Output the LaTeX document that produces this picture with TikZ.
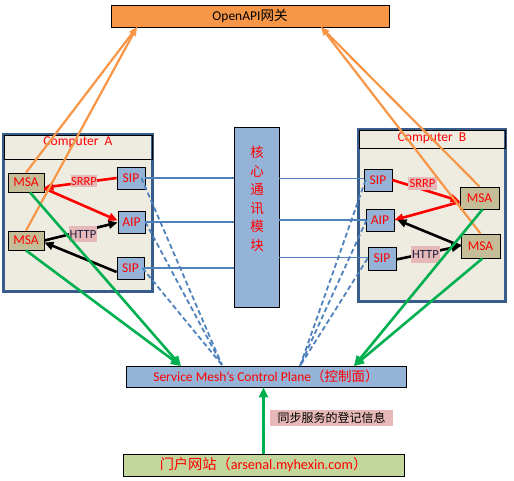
\documentclass[tikz,border=0pt]{standalone}
\usepackage{fontspec}
\setmainfont{Carlito}
\newfontfamily\cjk{Noto Sans CJK SC}
\usetikzlibrary{arrows.meta}

\definecolor{apiFill}{HTML}{F79646}
\definecolor{orangeLine}{HTML}{F79646}
\definecolor{blueFill}{HTML}{95B3D7}
\definecolor{msaFill}{HTML}{C4BD97}
\definecolor{compFill}{HTML}{EEECE1}
\definecolor{compEdge}{HTML}{385D8A}
\definecolor{portalFill}{HTML}{C3D69B}
\definecolor{tagFill}{HTML}{E6B9B8}
\definecolor{greenLine}{HTML}{00B050}
\definecolor{blueLine}{HTML}{4F81BD}
\definecolor{tagText}{HTML}{1F1F3F}

\begin{document}
\begin{tikzpicture}[x=1pt,y=-1pt,
  every node/.style={font=\fontsize{13.5}{16}\selectfont, inner sep=0pt},
  box/.style={draw=black, line width=0.8pt, text=red},
  compbox/.style={draw=compEdge, line width=3pt, fill=compFill},
  titlebar/.style={draw=black, line width=0.8pt},
  msabox/.style={box, fill=msaFill, minimum width=36pt, minimum height=19pt},
  sipbox/.style={box, fill=blueFill, minimum width=28pt, minimum height=22pt},
  tag/.style={fill=tagFill, font=\fontsize{12.5}{14}\selectfont},
  link/.style={draw=blueLine, line width=1.8pt},
  dlink/.style={draw=blueLine, line width=1.8pt, dash pattern=on 5pt off 3pt},
  redarrow/.style={draw=red, line width=2.6pt, -{Triangle[length=9pt,width=8pt]}},
  blackarrow/.style={draw=black, line width=2.6pt, -{Triangle[length=9pt,width=8pt]}},
  greenarrow/.style={draw=greenLine, line width=2.6pt, -{Triangle[length=10pt,width=9pt]}},
  orangearrow/.style={draw=orangeLine, line width=2.2pt, -{Stealth[length=9pt,width=7pt]}}]

\useasboundingbox (0,0) rectangle (514,481);

% gateway at the top
\node[box, fill=apiFill, text=black, minimum width=278pt, minimum height=22pt] (api) at (250,16) {OpenAPI{\cjk 网关}};

% computer A
\node[compbox, minimum width=149pt, minimum height=157pt] (compA) at (78,213) {};
\node[titlebar, minimum width=148pt, minimum height=23.5pt] (barA) at (78,147.25) {};
\node[text=red] (titleA) at (78,142) {Computer\ \ A};
\node[msabox] (msaA1) at (26,182.5) {MSA};
\node[msabox] (msaA2) at (26,240.5) {MSA};
\node[sipbox] (sipA1) at (131,178) {SIP};
\node[sipbox, minimum width=27pt] (aipA) at (131.5,222) {AIP};
\node[sipbox, minimum width=27pt] (sipA2) at (130.5,268) {SIP};

% computer B
\node[compbox, minimum width=147pt, minimum height=172pt] (compB) at (432,215.5) {};
\node[titlebar, minimum width=146pt, minimum height=17.5pt] (barB) at (432,139.25) {};
\node[text=red] (titleB) at (432,138) {Computer\ \ B};
\node[sipbox] (sipB1) at (378,180) {SIP};
\node[sipbox] (aipB) at (380,220) {AIP};
\node[sipbox, minimum height=23pt] (sipB2) at (382,258.5) {SIP};
\node[msabox, minimum width=39pt, minimum height=22pt] (msaB1) at (479.5,198) {MSA};
\node[msabox, minimum width=39pt, minimum height=24pt] (msaB2) at (480.5,246) {MSA};

% core communication module
\node[box, fill=blueFill, minimum width=45pt, minimum height=180pt] (core) at (256.5,217) {};
\node[text=red, align=center, font=\cjk\fontsize{13.5}{18.5}\selectfont] (coreText) at (257,199) {核\\心\\通\\讯\\模\\块};

% control plane and portal
\node[box, fill=blueFill, minimum width=280pt, minimum height=21pt] (cp) at (266,376.5) {Service Mesh’s Control Plane{\cjk （控制面）}};
\node[box, fill=portalFill, minimum width=281pt, minimum height=22pt, font=\fontsize{14.2}{17}\selectfont] (portal) at (263.5,465) {{\cjk 门户网站（}arsenal.myhexin.com{\cjk ）}};

% convergence points on the control plane and the gateway
\coordinate (dA) at (222,365);
\coordinate (dB) at (300,366);
\coordinate (gA) at (181,366);
\coordinate (gB) at (354,366);
\coordinate (oA) at (137,27);
\coordinate (oB) at (321,27);

% links through the core module
\draw[link] (sipA1.east) -- (sipA1.east -| core.west);
\draw[link] (aipA.east) -- (aipA.east -| core.west);
\draw[link] (sipA2.east) -- (sipA2.east -| core.west);
\draw[link] ([yshift=1.5pt]core.east |- sipB1.west) -- ([yshift=1.5pt]sipB1.west);
\draw[link] (core.east |- aipB.west) -- (aipB.west);
\draw[link] ([yshift=1pt]core.east |- sipB2.west) -- ([yshift=1pt]sipB2.west);

% registrations with the control plane
\draw[dlink] ([xshift=-4pt]sipA1.east) -- (dA);
\draw[dlink] (aipA.east) -- (dA);
\draw[dlink] ([xshift=-2pt]sipA2.east) -- (dA);
\draw[dlink] ([xshift=2pt]sipB1.west) -- (dB);
\draw[dlink] ([xshift=1pt]aipB.west) -- (dB);
\draw[dlink] (sipB2.west) -- (dB);

% calls inside computer A
\draw[redarrow] (sipA1.west) -- ([yshift=-5pt]msaA1.east);
\draw[redarrow] ([yshift=-6pt]msaA1.east) -- ([yshift=1.5pt]aipA.west);
\draw[blackarrow] (msaA2.east) -- ([yshift=-0.5pt]aipA.west);
\draw[blackarrow] ([yshift=-4pt]sipA2.west) -- ([yshift=-2pt]msaA2.east);

% calls inside computer B
\draw[redarrow] (sipB1.east) -- ([yshift=-3pt]msaB1.west);
\draw[redarrow] ([yshift=-4pt]msaB1.west) -- (aipB.east);
\draw[blackarrow] (msaB2.west) -- ([xshift=3pt]aipB.east);
\draw[blackarrow] ([yshift=-1pt]sipB2.east) -- (msaB2.west);

% protocol tags
\node[tag, text=red, minimum width=26pt, minimum height=12pt] (srrpA) at (84,181) {SRRP};
\node[tag, text=tagText, minimum width=28pt, minimum height=16pt] (httpA) at (83,234) {HTTP};
\node[tag, text=red, minimum width=29pt, minimum height=13pt] (srrpB) at (422.5,183.5) {SRRP};
\node[tag, text=tagText, minimum width=29pt, minimum height=17pt] (httpB) at (425.5,254.5) {HTTP};

% MSA to gateway
\draw[orangearrow] (msaA1.north) -- (oA);
\draw[orangearrow] (msaA2.north) -- (oA);
\draw[orangearrow] (msaB1.north) -- (oB);
\draw[orangearrow] (msaB2.north) -- (oB);

% MSA to control plane
\draw[greenarrow] ([xshift=4pt]msaA1.south) -- (gA);
\draw[greenarrow] (msaA2.south) -- (gA);
\draw[greenarrow] ([xshift=3pt]msaB1.south) -- (gB);
\draw[greenarrow] ([xshift=2pt]msaB2.south) -- (gB);

% portal sync
\draw[greenarrow] (portal.north) -- (portal.north |- cp.south);
\node[tag, font=\cjk\fontsize{12}{14}\selectfont, minimum width=123pt, minimum height=16pt] (sync) at (331.5,418) {同步服务的登记信息};
\end{tikzpicture}
\end{document}
